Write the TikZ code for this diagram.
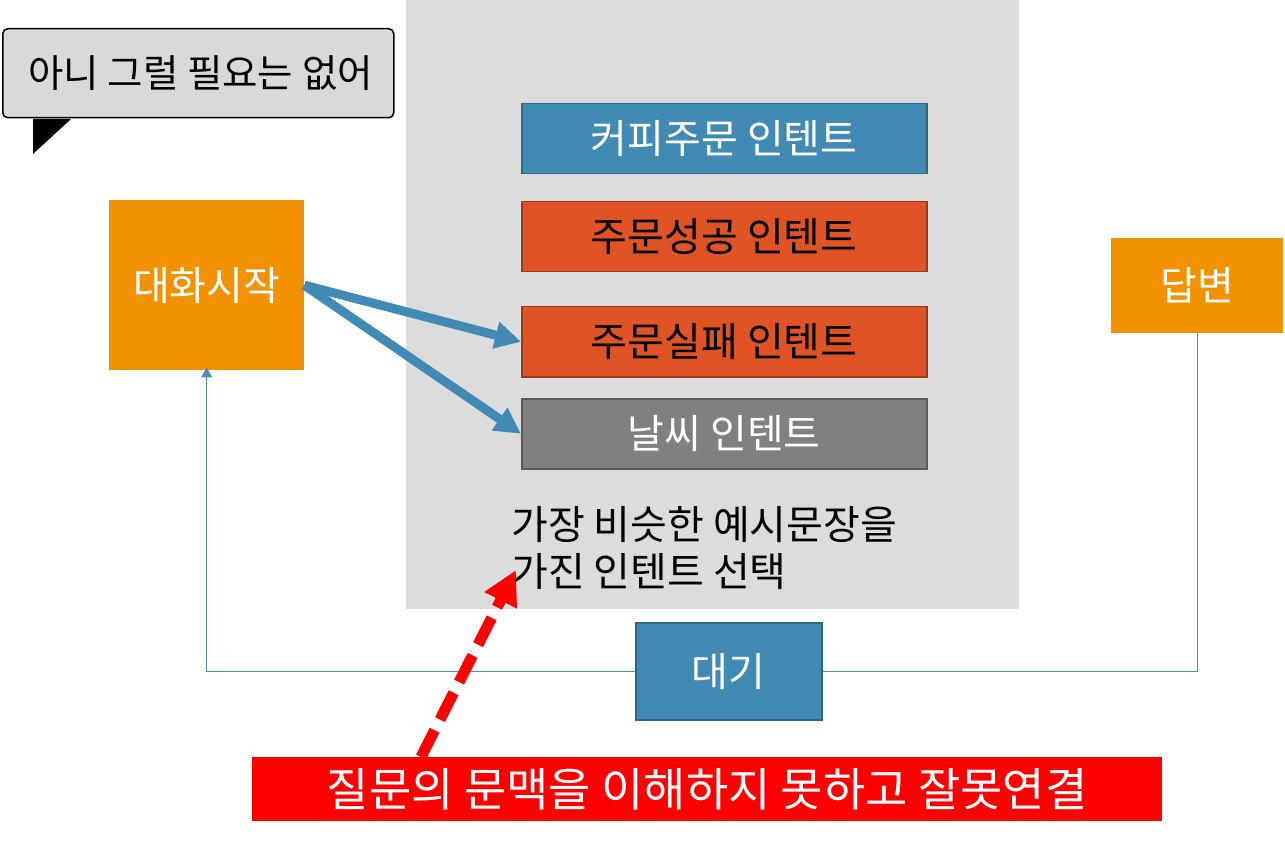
\documentclass[tikz,border=0pt]{standalone}
\usepackage{fontspec}
\setmainfont{Noto Sans CJK KR}
\usetikzlibrary{arrows.meta,positioning}
\definecolor{bgray}{HTML}{DCDCDC}
\definecolor{bubble}{HTML}{D9D9D9}
\definecolor{orng}{HTML}{F39200}
\definecolor{blu}{HTML}{418AB3}
\definecolor{bluedge}{HTML}{2E6688}
\definecolor{redo}{HTML}{E05325}
\definecolor{redoedge}{HTML}{A0391A}
\definecolor{gry}{HTML}{808080}
\definecolor{gryedge}{HTML}{595959}
\definecolor{thinblue}{HTML}{4A90BC}
\tikzset{
  txt/.style={font=\fontsize{40}{48}\selectfont},
  intent/.style={draw, line width=1.5pt, minimum width=405pt, minimum height=70pt, inner sep=0pt, txt},
  orangebox/.style={fill=orng, text=white, inner sep=0pt, txt},
  fatarrow/.style={draw=blu, line width=9pt, -{Triangle[length=26pt,width=26pt]}},
  thinline/.style={draw=thinblue, line width=1pt},
}
\begin{document}
\begin{tikzpicture}[x=1pt,y=-1pt]
\useasboundingbox (0,0) rectangle (1285,842);
% gray background panel
\fill[bgray] (406,0) rectangle (1019,609);

% speech bubble
\node[draw=black, fill=bubble, rounded corners=5pt, line width=1.5pt, minimum width=391pt, minimum height=89pt, inner sep=0pt, anchor=north west] (bubble) at (2,28) {};
\node[anchor=west, inner sep=0pt, font=\fontsize{38.5}{46}\selectfont] (bubbletext) at ([xshift=26pt]bubble.west) {아니 그럴 필요는 없어};
\fill[black] (33,119) -- (71,119) -- (33,154) -- cycle;

% start
\node[orangebox, minimum width=195pt, minimum height=170pt, anchor=north west] (start) at (109,200) {대화시작};

% intents
\node[intent, draw=bluedge, fill=blu, text=white, anchor=north west] (coffee) at (521,103) {커피주문 인텐트};
\node[intent, draw=redoedge, fill=redo, text=black, anchor=north west] (succ) at (521,201) {주문성공 인텐트};
\node[intent, draw=redoedge, fill=redo, text=black, anchor=north west] (fail) at (521,306) {주문실패 인텐트};
\node[intent, draw=gryedge, fill=gry, text=white, anchor=north west] (weather) at (521,398) {날씨 인텐트};

% selection text
\node[align=left, anchor=north west, inner sep=0pt, font=\fontsize{40}{47}\selectfont] (sel) at (511,506) {가장 비슷한 예시문장을\\가진 인텐트 선택};

% answer
\node[orangebox, minimum width=172pt, minimum height=95pt, anchor=north west] (ans) at (1111,238) {답변};

% wait
\node[draw=bluedge, line width=1.5pt, fill=blu, text=white, minimum width=186pt, minimum height=97pt, inner sep=0pt, anchor=north west, txt] (wait) at (635,622) {대기};

% error box
\node[fill=red, text=white, minimum width=910pt, minimum height=64pt, inner sep=0pt, anchor=north west, font=\fontsize{46}{52}\selectfont] (err) at (252,757) {질문의 문맥을 이해하지 못하고 잘못연결};

% fat arrows
\draw[fatarrow] (start.east) -- (fail.west);
\draw[fatarrow] (start.east) -- (weather.west);

% thin loop
\draw[thinline] (ans.south) |- (wait.east);
\draw[thinline, -{Triangle[length=10pt,width=11pt]}] (wait.west) -| ([yshift=3pt]start.south);

% red dashed arrow
\coordinate (errtop) at (421,757);
\coordinate (seltip) at (516,570);
\draw[red, line width=11pt, dash pattern=on 30pt off 12pt, -{Triangle[length=34pt,width=34pt]}] (errtop) -- (seltip);
\end{tikzpicture}
\end{document}
